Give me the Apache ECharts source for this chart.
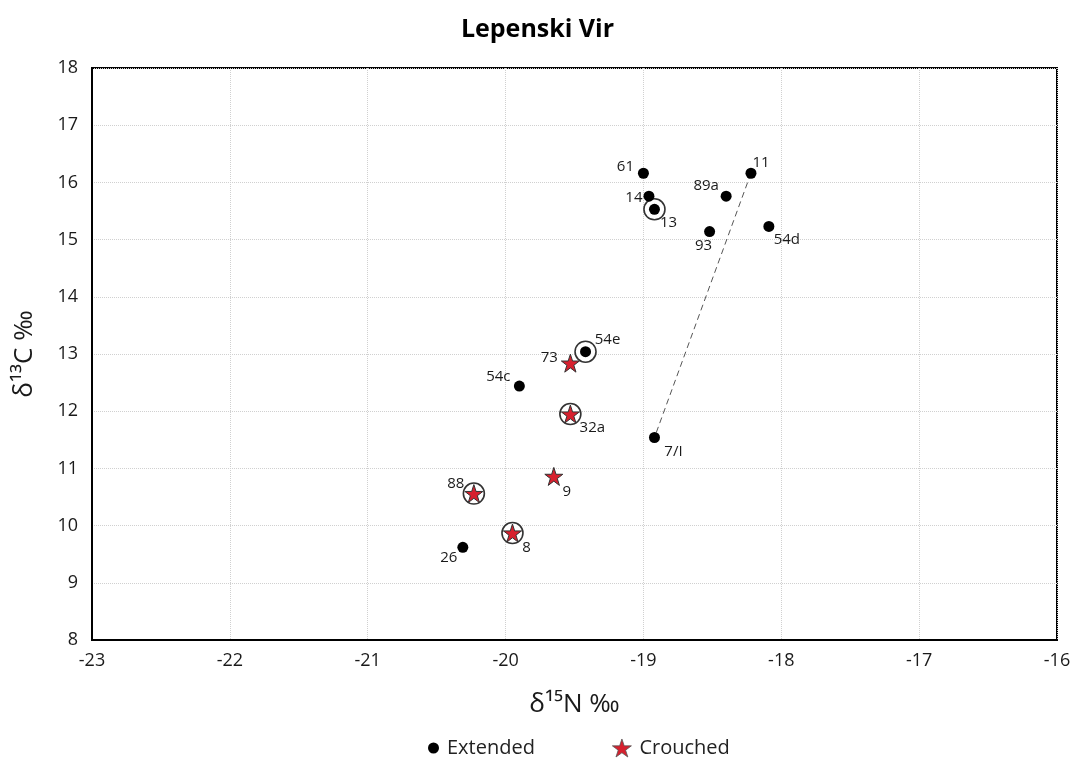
<!DOCTYPE html>
<html><head><meta charset="utf-8">
<script src="https://cdn.jsdelivr.net/npm/echarts@6/dist/echarts.min.js"></script>
<style>html,body{margin:0;padding:0;background:#fff}#c{width:1075px;height:762px}</style>
</head><body><div id="c"></div>
<script>
// Data
const extendedNames = ['61','14','13','11','89a','93','54d','54e','54c','7/I','26'];
const extendedN = [-19.00,-18.96,-18.92,-18.22,-18.40,-18.52,-18.09,-19.42,-19.90,-18.92,-20.31];
const extendedC = [16.16,15.76,15.53,16.16,15.76,15.14,15.23,13.04,12.44,11.54,9.62];
const crouchedNames = ['73','32a','88','9','8'];
const crouchedN = [-19.53,-19.53,-20.23,-19.65,-19.95];
const crouchedC = [12.84,11.95,10.56,10.86,9.87];
const ringedNames = ['13','54e','32a','88','8'];
const linkedNames = ['11','7/I'];

// Style: label offsets (px)
const labelOffset = {
  '61':[-18,-7],'14':[-15,2],'13':[14,13],'11':[10,-11],'89a':[-20,-10],'93':[-6,14],
  '54d':[18,13],'54e':[22,-12],'73':[-21,-5],'54c':[-21,-9],'32a':[22,14],'7/I':[19,14],
  '88':[-18,-10],'9':[13,15],'8':[14,15],'26':[-14,10]
};
const STAR = 'path://M50,0 L61.8,35.5 L99,35.5 L69,57.5 L80.5,93 L50,71 L19.5,93 L31,57.5 L1,35.5 L38.2,35.5 Z';

const allNames = extendedNames.concat(crouchedNames);
const allN = extendedN.concat(crouchedN);
const allC = extendedC.concat(crouchedC);
function pt(name){const i=allNames.indexOf(name);return [allN[i],allC[i]];}

function mk(names,ns,cs){
  return names.map((n,i)=>({name:n,value:[ns[i],cs[i]],
    label:{show:true,position:'inside',offset:labelOffset[n],formatter:n}}));
}
const lblStyle={color:'#1a1a1a',fontSize:15,fontFamily:'Open Sans'};
const legText={fontFamily:'Open Sans',fontSize:20,color:'#222',padding:[0,0,0,3]};

const chart = echarts.init(document.getElementById('c'));
chart.setOption({
  animation:false,
  title:{text:'Lepenski Vir',left:'center',top:12,
    textStyle:{fontFamily:'Open Sans',fontWeight:'bold',fontSize:25,color:'#000'}},
  grid:{left:92,right:18,top:68,bottom:122,show:true,borderColor:'#000',borderWidth:2},
  legend:[
    {left:423,top:733,itemWidth:11,itemHeight:11,data:[{name:'Extended',icon:'circle'}],textStyle:legText},
    {left:607,top:733,itemWidth:19,itemHeight:19,data:[{name:'Crouched',icon:STAR,
      itemStyle:{borderColor:'#555',borderWidth:0.8}}],textStyle:legText}
  ],
  xAxis:{type:'value',min:-23,max:-16,interval:1,
    name:'δ¹⁵N ‰',nameLocation:'middle',nameGap:52,
    nameTextStyle:{fontFamily:'Open Sans',fontSize:26,color:'#1a1a1a'},
    axisLine:{show:true,lineStyle:{color:'#000',width:2}},axisTick:{show:false},
    axisLabel:{fontFamily:'Open Sans',fontSize:18,color:'#1a1a1a',margin:12},
    splitLine:{show:true,lineStyle:{color:'#d0d0d0',type:'dotted',width:1}}},
  yAxis:{type:'value',min:8,max:18,interval:1,
    name:'δ¹³C ‰',nameLocation:'middle',nameGap:54,
    nameTextStyle:{fontFamily:'Open Sans',fontSize:26,color:'#1a1a1a'},
    axisLine:{show:true,lineStyle:{color:'#000',width:2}},axisTick:{show:false},
    axisLabel:{fontFamily:'Open Sans',fontSize:18,color:'#1a1a1a',margin:14},
    splitLine:{show:true,lineStyle:{color:'#d0d0d0',type:'dotted',width:1}}},
  series:[
    {type:'line',data:linkedNames.map(pt),symbol:'none',silent:true,z:1,
      lineStyle:{color:'#555',width:1,type:[6,4]}},
    {type:'scatter',name:'ring',data:ringedNames.map(pt),symbol:'circle',symbolSize:21,z:2,
      itemStyle:{color:'#fff',borderColor:'#333',borderWidth:1.6,opacity:1}},
    {type:'scatter',name:'Extended',data:mk(extendedNames,extendedN,extendedC),symbol:'circle',symbolSize:11,z:3,
      itemStyle:{color:'#000',opacity:1},label:lblStyle},
    {type:'scatter',name:'Crouched',data:mk(crouchedNames,crouchedN,crouchedC),symbol:STAR,symbolSize:18,z:4,
      itemStyle:{color:'#d7202e',borderColor:'#333',borderWidth:1,opacity:1},label:lblStyle}
  ]
});
</script></body></html>
